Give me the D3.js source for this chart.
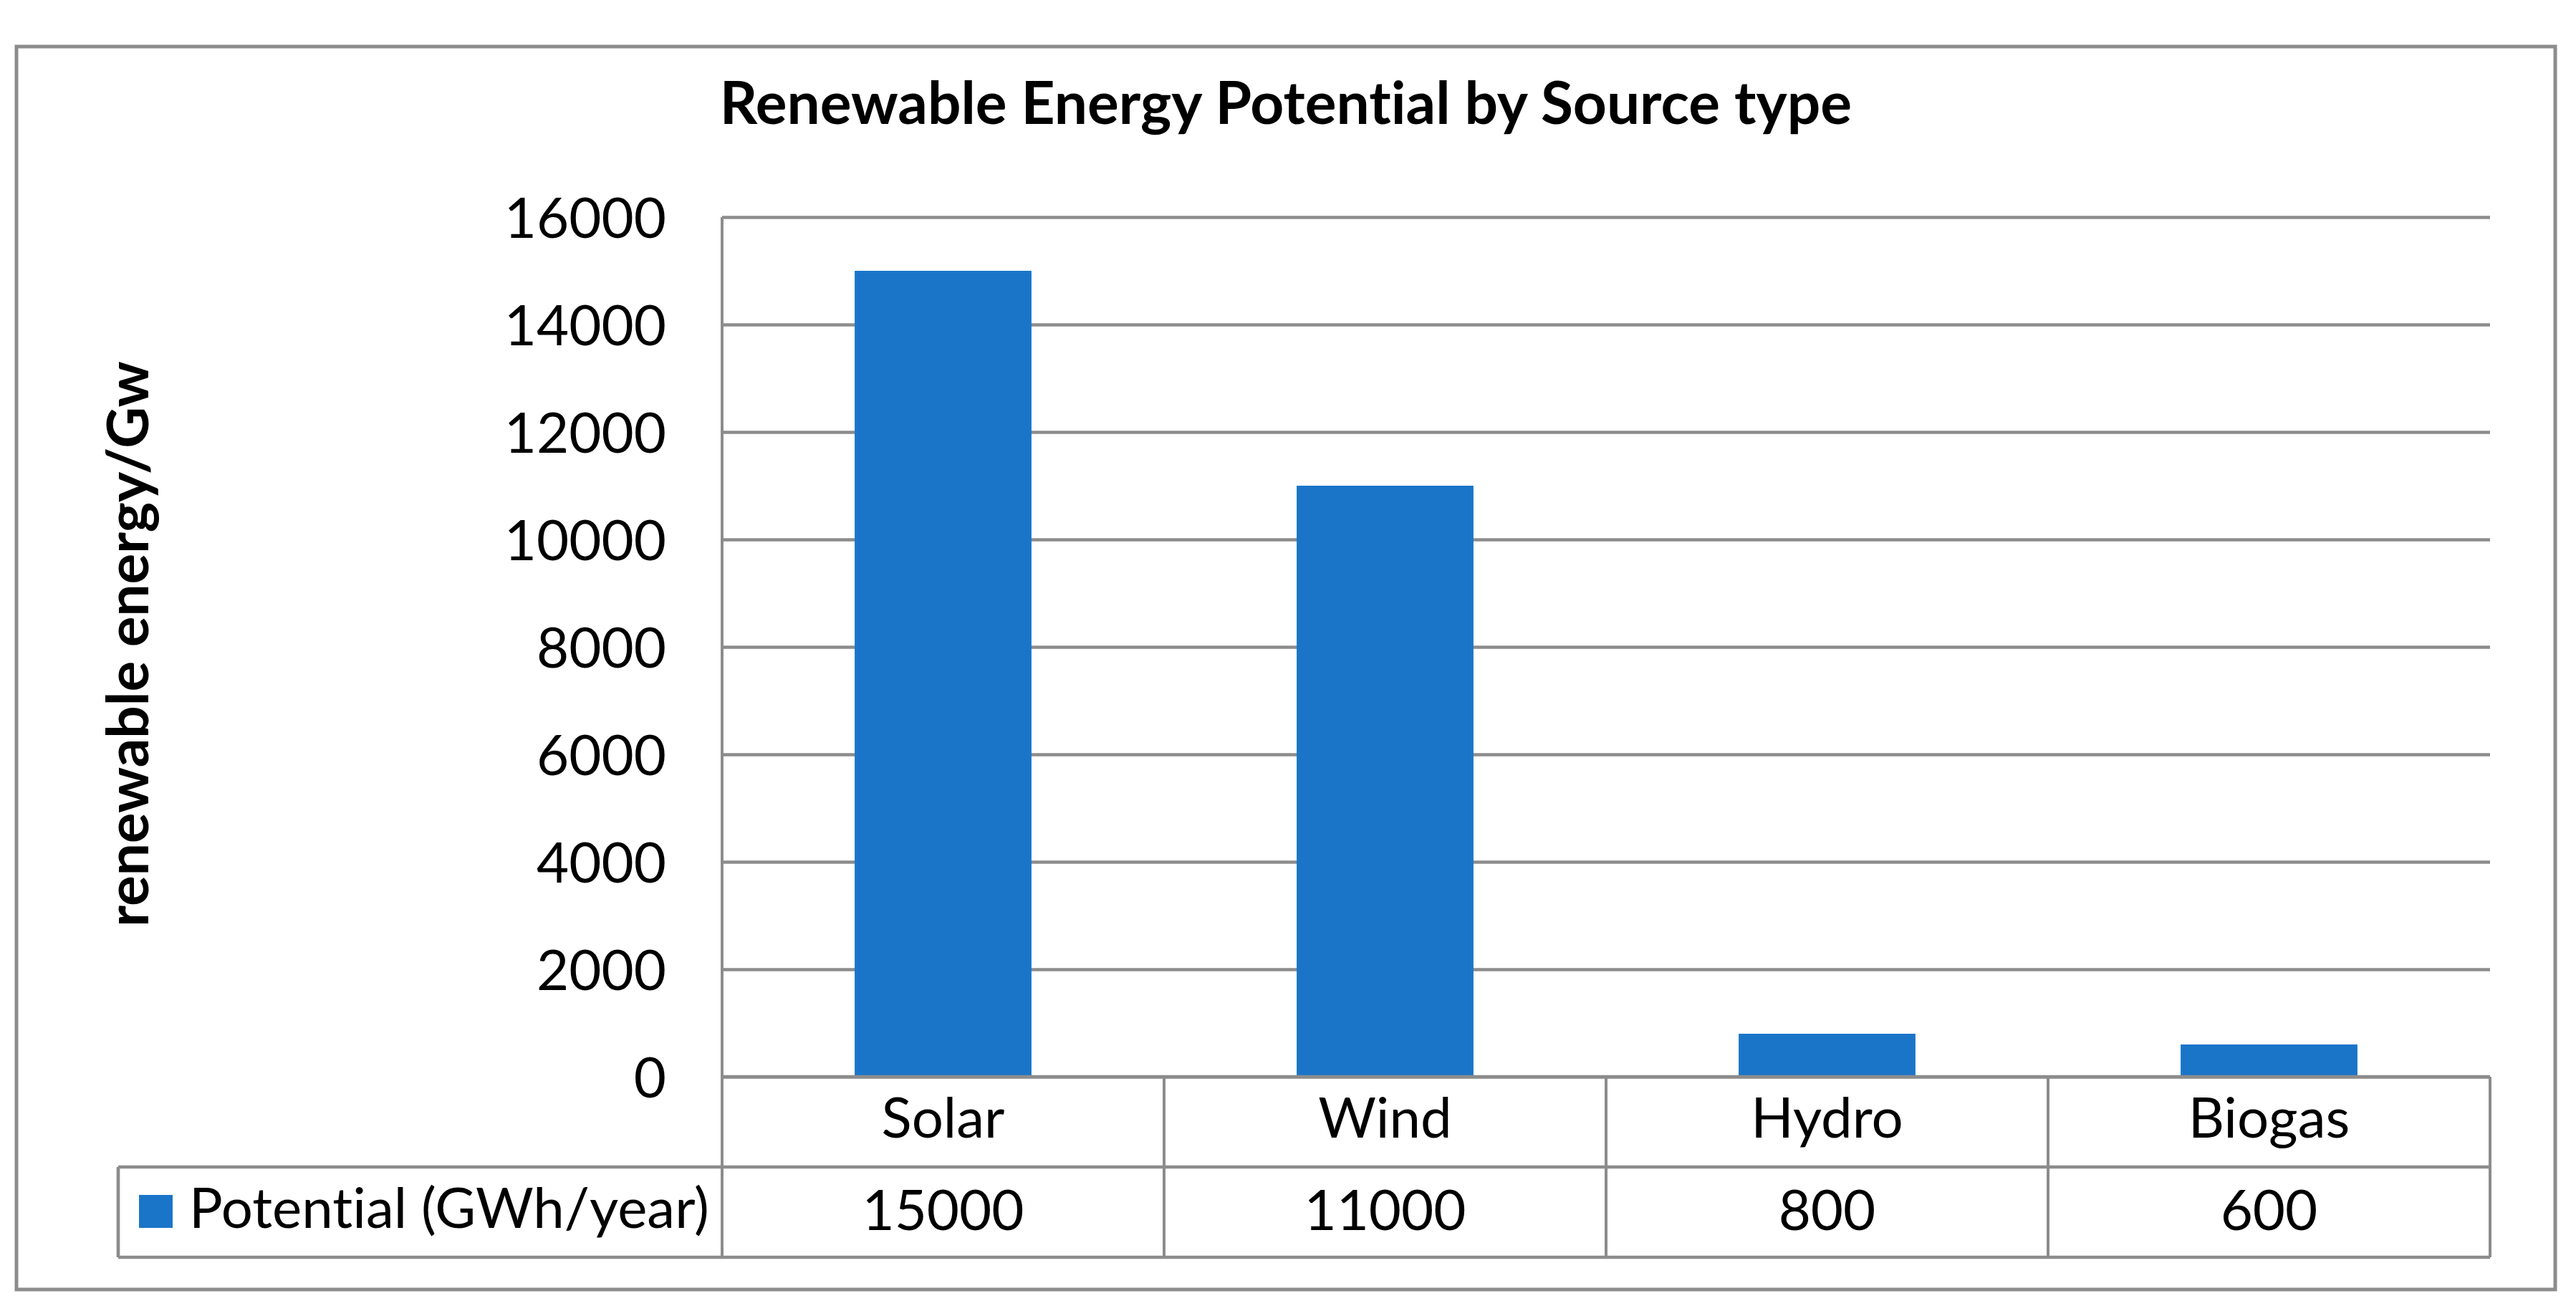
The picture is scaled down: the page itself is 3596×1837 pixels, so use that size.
<!DOCTYPE html>
<html>
<head>
<meta charset="utf-8">
<script src="https://cdn.jsdelivr.net/npm/d3@7"></script>
<style>
  body { margin: 0; background: #fff; }
  svg text { font-family: Lato, "Open Sans", sans-serif; fill: #000; font-variant-ligatures: none; }
</style>
</head>
<body>
<div id="chart"></div>
<script>
// data
var categories = ["Solar", "Wind", "Hydro", "Biogas"];
var potential = [15000, 11000, 800, 600];
var yTicks = [0, 2000, 4000, 6000, 8000, 10000, 12000, 14000, 16000];
var seriesName = "Potential (GWh/year)";
var chartTitle = "Renewable Energy Potential by Source type";
var yLabel = "renewable energy/Gw";

var svgWidth = 3596;
var svgHeight = 1837;
var plotLeft = 1008;
var plotRight = 3476;
var plotTop = 303;
var plotBottom = 1503;
var rowH = 126;
var legendLeft = 165;
var lineColor = "#8c8c8c";
var barColor = "#1a75c9";
var fontSize = 78;

var svg = d3.select("#chart")
    .append("svg")
    .attr("width", svgWidth)
    .attr("height", svgHeight);

// outer frame
svg.append("rect")
    .attr("x", 23).attr("y", 65)
    .attr("width", 3544).attr("height", 1735)
    .attr("fill", "none")
    .attr("stroke", lineColor)
    .attr("stroke-width", 5);

var xScale = d3.scaleBand()
    .domain(categories)
    .range([plotLeft, plotRight])
    .paddingInner(0.6)
    .paddingOuter(0.3);

var yScale = d3.scaleLinear()
    .domain([0, 16000])
    .range([plotBottom, plotTop]);

var yAxisCall = d3.axisLeft(yScale)
    .tickValues(yTicks)
    .tickSizeInner(-(plotRight - plotLeft))
    .tickSizeOuter(0)
    .tickPadding(78)
    .tickFormat(d3.format("d"));

var yAxisGroup = svg.append("g")
    .attr("transform", `translate(${plotLeft},0)`)
    .call(yAxisCall);

yAxisGroup.select(".domain").remove();
yAxisGroup.selectAll("line")
    .attr("stroke", lineColor)
    .attr("stroke-width", 4.7);
yAxisGroup.selectAll("text")
    .attr("font-size", fontSize)
    .attr("font-family", "Lato")
    .attr("dy", "0.36em");

// plot left edge
svg.append("line")
    .attr("x1", plotLeft).attr("x2", plotLeft)
    .attr("y1", plotTop).attr("y2", plotBottom + 2 * rowH)
    .attr("stroke", lineColor).attr("stroke-width", 4);

// bars
svg.append("g").selectAll("rect")
    .data(potential)
    .enter()
    .append("rect")
    .attr("x", (d, i) => xScale(categories[i]))
    .attr("y", d => yScale(d))
    .attr("width", xScale.bandwidth())
    .attr("height", d => plotBottom - yScale(d))
    .attr("fill", barColor);

// data table
var table = svg.append("g");
var step = xScale.step();
var colEdges = categories.map(c => xScale(c) - (step - xScale.bandwidth()) / 2);
colEdges.push(plotRight);

// horizontal lines
[[plotLeft, plotRight, plotBottom], [legendLeft, plotRight, plotBottom + rowH], [legendLeft, plotRight, plotBottom + 2 * rowH]]
    .forEach(l => {
        table.append("line")
            .attr("x1", l[0]).attr("x2", l[1])
            .attr("y1", l[2]).attr("y2", l[2])
            .attr("stroke", lineColor).attr("stroke-width", 4.7);
    });

// vertical lines
table.selectAll("line.col")
    .data(colEdges)
    .enter()
    .append("line")
    .attr("class", "col")
    .attr("x1", d => d).attr("x2", d => d)
    .attr("y1", plotBottom).attr("y2", plotBottom + 2 * rowH)
    .attr("stroke", lineColor).attr("stroke-width", 4);

table.append("line")
    .attr("x1", legendLeft).attr("x2", legendLeft)
    .attr("y1", plotBottom + rowH).attr("y2", plotBottom + 2 * rowH)
    .attr("stroke", lineColor).attr("stroke-width", 4.7);

// category labels
table.selectAll("text.cat")
    .data(categories)
    .enter()
    .append("text")
    .attr("class", "cat")
    .attr("x", d => xScale(d) + xScale.bandwidth() / 2)
    .attr("y", plotBottom + 85)
    .attr("text-anchor", "middle")
    .attr("font-size", fontSize)
    .text(d => d);

// value row
table.selectAll("text.val")
    .data(potential)
    .enter()
    .append("text")
    .attr("class", "val")
    .attr("x", (d, i) => xScale(categories[i]) + xScale.bandwidth() / 2)
    .attr("y", plotBottom + rowH + 88)
    .attr("text-anchor", "middle")
    .attr("font-size", fontSize)
    .text(d => d);

// legend key
table.append("rect")
    .attr("x", 194).attr("y", 1668)
    .attr("width", 47).attr("height", 46)
    .attr("fill", barColor);

table.append("text")
    .attr("x", 264)
    .attr("y", 1714)
    .attr("font-size", fontSize)
    .text(seriesName);

// title
svg.append("text")
    .attr("x", 1795)
    .attr("y", 173)
    .attr("text-anchor", "middle")
    .attr("font-size", 82)
    .attr("font-weight", "bold")
    .text(chartTitle);

// y axis title
svg.append("text")
    .attr("transform", "translate(207,899) rotate(-90)")
    .attr("text-anchor", "middle")
    .attr("font-size", 80)
    .attr("font-weight", "bold")
    .text(yLabel);
</script>
</body>
</html>
